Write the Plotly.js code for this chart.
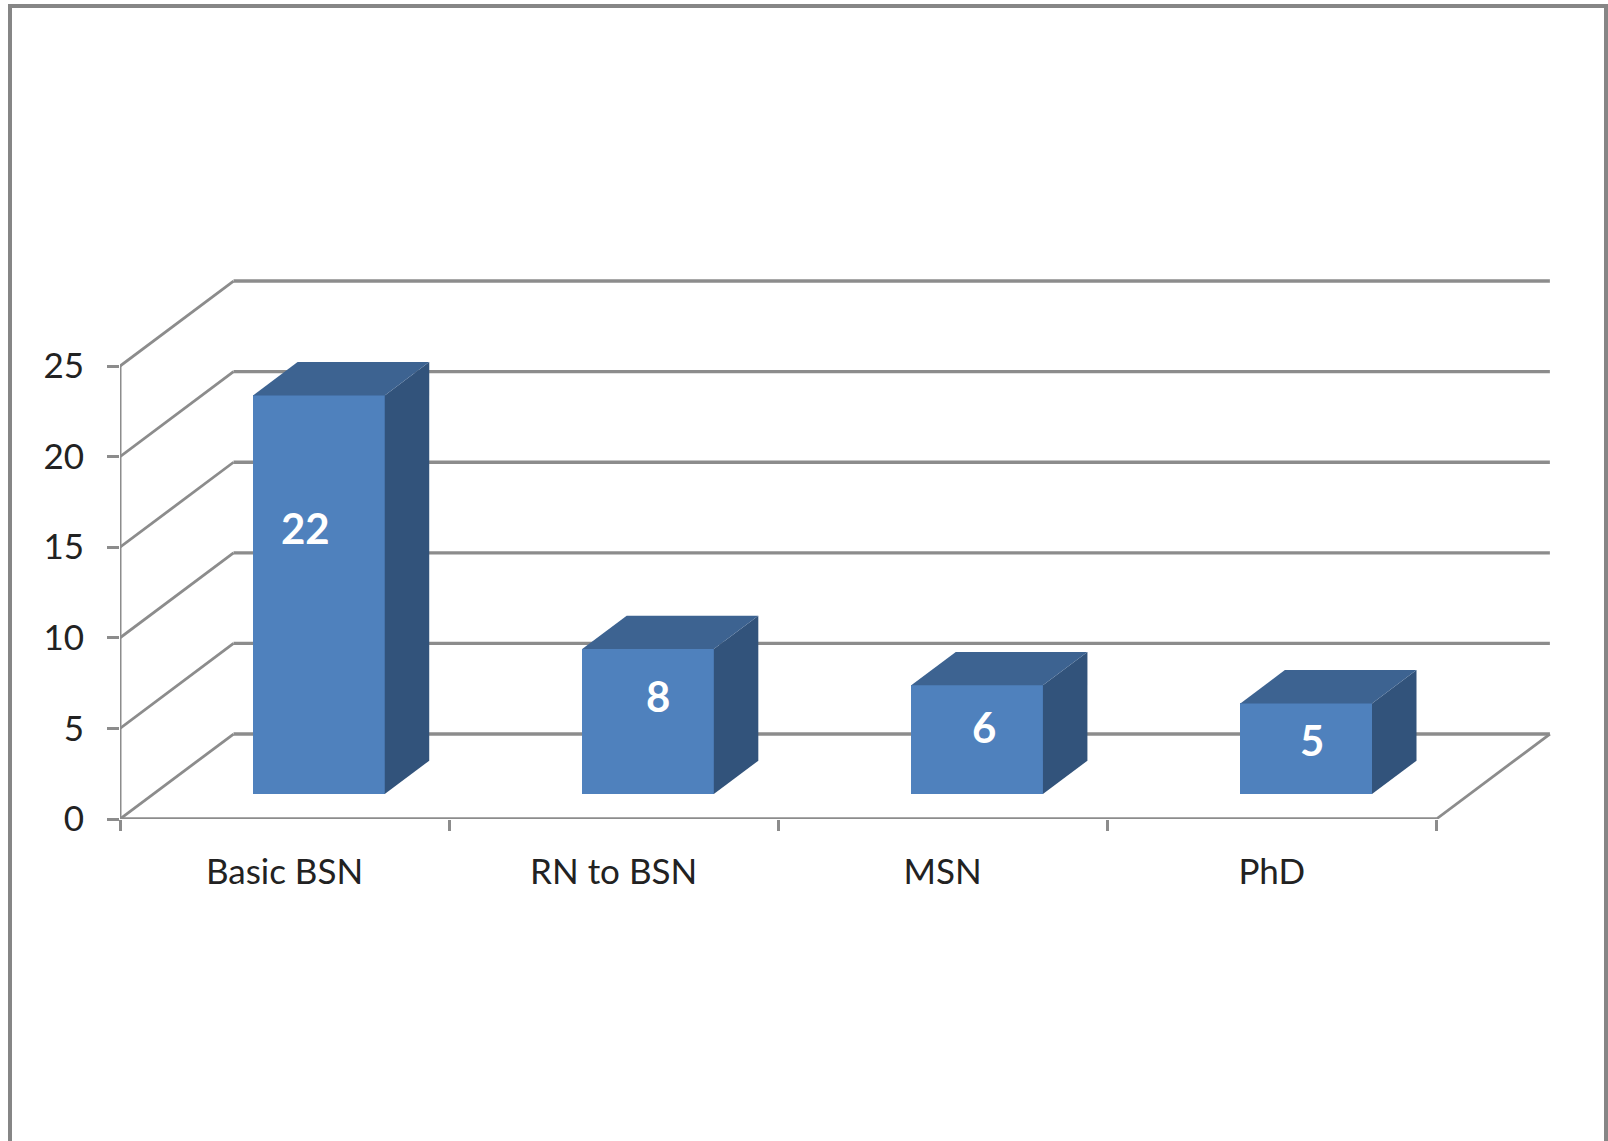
<!DOCTYPE html>
<html>
<head>
<meta charset="utf-8">
<title>Programs</title>
<script src="https://cdn.plot.ly/plotly-3.0.1.min.js"></script>
<style>
  html, body { margin: 0; padding: 0; background: #fff; overflow: hidden; }
  #frame { position: absolute; left: 8px; top: 4px; width: 1592px; height: 1137px;
           border: solid #868686; border-width: 4px 4px 0 4px; }
  #chart { position: absolute; left: 0; top: 0; width: 1608px; height: 1141px; }
</style>
</head>
<body>
<div id="frame"></div>
<div id="chart"></div>
<script>
// Chart data
const categories = ["Basic BSN", "RN to BSN", "MSN", "PhD"];
const counts = [22, 8, 6, 5];
const valueTicks = [0, 5, 10, 15, 20, 25];
const categoryEdges = [0, 1, 2, 3, 4];

// Pixel scale of the plot area
const PX_PER_CATEGORY = 329;
const PX_PER_UNIT = 18.12;
const ORIGIN_X = 120;
const ORIGIN_Y = 819.2;
const X_MAX = 4.4;
const Y_MAX = 34;

// Oblique projection: depth 0 is the front of the floor, depth 1 the back wall
const DEPTH_X = 113.5 / PX_PER_CATEGORY;
const DEPTH_Y = 85 / PX_PER_UNIT;
const project = (x, v, d) => [x + d * DEPTH_X, v + d * DEPTH_Y];

// Column geometry in category units and depth fractions
const BAR_WIDTH = 0.4;
const BAR_INSET = 0.303;
const BAR_FRONT = 0.294;
const BAR_BACK = 0.686;

// Value labels sit off-centre on the front faces; nudges in pixels
const labelShiftX = [-13, 10, 6.5, 6];
const labelShiftY = [66.5, 25.5, 13, 8.5];

const GRID = "#8c8c8c";
const FACE = "#4f81bd";
const SIDE = "#32537b";
const TOP = "#3d6391";
const INK = "#222222";
const FONT = "Lato, Carlito, Calibri, sans-serif";

function polygon(corners, color) {
  return {
    type: "scatter", mode: "lines", fill: "toself", fillcolor: color,
    x: corners.map(c => c[0]), y: corners.map(c => c[1]),
    line: { width: 0, color: color }, hoverinfo: "skip", showlegend: false
  };
}

function segment(a, b, width) {
  return {
    type: "line", layer: "below", xref: "x", yref: "y",
    x0: a[0], y0: a[1], x1: b[0], y1: b[1],
    line: { color: GRID, width: width }
  };
}

// Front faces are a real bar trace; sides and tops are projected polygons
const traces = [{
  type: "bar",
  x: counts.map((_, i) => i + BAR_INSET + BAR_WIDTH / 2 + BAR_FRONT * DEPTH_X),
  y: counts,
  base: counts.map(() => BAR_FRONT * DEPTH_Y),
  width: BAR_WIDTH,
  marker: { color: FACE, line: { width: 0 } },
  hoverinfo: "skip",
  showlegend: false
}];

counts.forEach((v, i) => {
  const left = i + BAR_INSET;
  const right = left + BAR_WIDTH;
  traces.push(polygon([
    project(right, 0, BAR_FRONT), project(right, 0, BAR_BACK),
    project(right, v, BAR_BACK), project(right, v, BAR_FRONT),
    project(right, 0, BAR_FRONT)
  ], SIDE));
  traces.push(polygon([
    project(left, v, BAR_FRONT), project(right, v, BAR_FRONT),
    project(right, v, BAR_BACK), project(left, v, BAR_BACK),
    project(left, v, BAR_FRONT)
  ], TOP));
});

// Walls and floor of the chart box
const shapes = [];
const lastEdge = categoryEdges[categoryEdges.length - 1];
valueTicks.forEach(t => {
  shapes.push(segment(project(0, t, 0), project(0, t, 1), 2.8));
  shapes.push(segment(project(0, t, 1), project(lastEdge, t, 1), 3.4));
});
shapes.push(segment(project(lastEdge, 0, 0), project(lastEdge, 0, 1), 2.8));
shapes.push(segment([0, 0], [0, valueTicks[valueTicks.length - 1]], 3));
shapes.push(segment([0, 0], [lastEdge, 0], 3.6));

const annotations = counts.map((v, i) => ({
  xref: "x", yref: "y",
  x: i + BAR_INSET + BAR_WIDTH / 2 + BAR_FRONT * DEPTH_X,
  y: BAR_FRONT * DEPTH_Y + v / 2,
  xshift: labelShiftX[i], yshift: labelShiftY[i],
  text: String(v), showarrow: false,
  font: { family: FONT, size: 42, color: "#ffffff", weight: 700 }
}));

const plotW = X_MAX * PX_PER_CATEGORY;
const plotH = Y_MAX * PX_PER_UNIT;

const layout = {
  width: 1608, height: 1141,
  margin: {
    l: ORIGIN_X, r: 1608 - ORIGIN_X - plotW,
    t: ORIGIN_Y - plotH, b: 1141 - ORIGIN_Y, pad: 0
  },
  paper_bgcolor: "rgba(0,0,0,0)",
  plot_bgcolor: "rgba(0,0,0,0)",
  showlegend: false,
  bargap: 0,
  shapes: shapes,
  annotations: annotations,
  xaxis: {
    type: "linear", range: [0, X_MAX], fixedrange: true,
    tickmode: "array",
    tickvals: categories.map((_, i) => i + 0.5),
    ticktext: categories,
    ticks: "", showgrid: false, zeroline: false, showline: false,
    ticklabelstandoff: 29,
    tickfont: { family: FONT, size: 35, color: INK },
    minor: {
      tickmode: "array", tickvals: categoryEdges, ticks: "outside",
      ticklen: 11, tickwidth: 3, tickcolor: GRID, showgrid: false
    }
  },
  yaxis: {
    type: "linear", range: [0, Y_MAX], fixedrange: true,
    tickmode: "array", tickvals: valueTicks,
    ticktext: valueTicks.map(String),
    ticks: "outside", ticklen: 12, tickwidth: 3, tickcolor: GRID,
    showgrid: false, zeroline: false, showline: false,
    ticklabelstandoff: 16,
    tickfont: { family: FONT, size: 35, color: INK }
  }
};

Plotly.newPlot("chart", traces, layout, { displayModeBar: false, staticPlot: true });
</script>
</body>
</html>
